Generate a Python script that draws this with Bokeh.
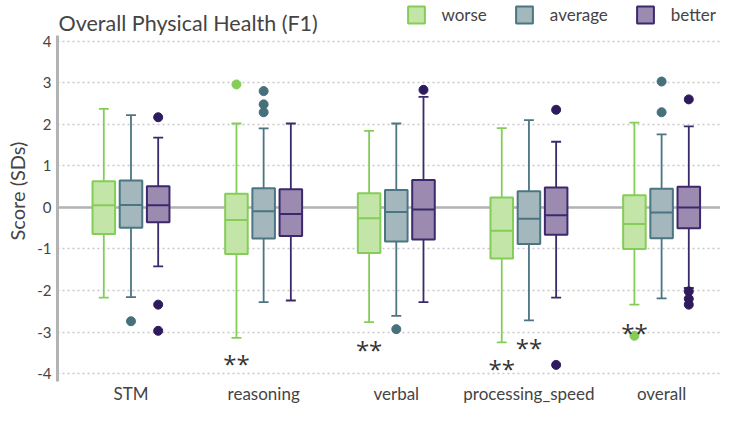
from bokeh.plotting import figure
from bokeh.models import ColumnDataSource, Range1d, FixedTicker, Span, Legend, LegendItem, Label
from bokeh.core.properties import value
from bokeh.embed import file_html
from bokeh.resources import INLINE

categories = ["STM", "reasoning", "verbal", "processing_speed", "overall"]
groups = ["worse", "average", "better"]

worse_lower = [-2.17, -3.14, -2.76, -3.25, -2.34]
worse_q1 = [-0.64, -1.12, -1.10, -1.23, -1.00]
worse_med = [0.05, -0.30, -0.26, -0.56, -0.40]
worse_q3 = [0.63, 0.33, 0.34, 0.24, 0.29]
worse_upper = [2.37, 2.02, 1.84, 1.91, 2.04]

average_lower = [-2.16, -2.28, -2.61, -2.72, -2.19]
average_q1 = [-0.49, -0.75, -0.82, -0.88, -0.74]
average_med = [0.06, -0.09, -0.11, -0.27, -0.12]
average_q3 = [0.65, 0.46, 0.42, 0.39, 0.45]
average_upper = [2.22, 1.90, 2.02, 2.10, 1.76]

better_lower = [-1.42, -2.24, -2.28, -2.17, -1.94]
better_q1 = [-0.36, -0.69, -0.77, -0.66, -0.50]
better_med = [0.05, -0.16, -0.05, -0.19, 0.00]
better_q3 = [0.51, 0.44, 0.66, 0.48, 0.50]
better_upper = [1.68, 2.02, 2.66, 1.58, 1.95]

worse_out_cat = ["reasoning", "overall"]
worse_out_val = [2.96, -3.09]
average_out_cat = ["STM", "reasoning", "reasoning", "reasoning", "verbal", "overall", "overall"]
average_out_val = [-2.74, 2.80, 2.48, 2.29, -2.93, 3.03, 2.29]
better_out_cat = ["STM", "STM", "STM", "verbal", "processing_speed", "processing_speed",
                  "overall", "overall", "overall", "overall"]
better_out_val = [2.17, -2.34, -2.97, 2.83, 2.35, -3.79, 2.60, -2.02, -2.20, -2.34]

sig_cat = ["reasoning", "verbal", "processing_speed", "processing_speed", "overall"]
sig_group = ["worse", "worse", "worse", "average", "worse"]
sig_y = [-3.76, -3.42, -3.87, -3.37, -3.00]

y_ticks = [-4, -3, -2, -1, 0, 1, 2, 3, 4]
y_tick_labels = ["-4", "-3", "-2", "-1", "0", "1", "2", "3", "4"]
title_text = "Overall Physical Health (F1)"

FONT = "Lato"
TEXT = "#444444"
line_colors = {"worse": "#84cd58", "average": "#4b7582", "better": "#3a2a6b"}
fill_colors = {"worse": "#c3e5a7", "average": "#a3b7bd", "better": "#9c8ab1"}
point_colors = {"worse": "#84cd58", "average": "#45707c", "better": "#2e1b5e"}
offsets = {"worse": -0.205, "average": 0.0, "better": 0.205}
BOX_W = 0.17
CAP_W = 0.075

stats = {
    "worse": (worse_lower, worse_q1, worse_med, worse_q3, worse_upper, worse_out_cat, worse_out_val),
    "average": (average_lower, average_q1, average_med, average_q3, average_upper, average_out_cat, average_out_val),
    "better": (better_lower, better_q1, better_med, better_q3, better_upper, better_out_cat, better_out_val),
}
cat_pos = {c: i + 0.5 for i, c in enumerate(categories)}

W, H = 720, 406
BOTTOM, LEFT = 24, 57
Y_LO, Y_AXIS_TOP, Y_TOP = -4.19, 4.14, 4.98
X_LO, X_HI = -0.054, 4.944
p = figure(width=W, height=H, x_range=Range1d(X_LO, X_HI), y_range=Range1d(Y_LO, Y_TOP),
           output_backend="svg", toolbar_location=None, title=None,
           min_border_left=LEFT, min_border_right=0, min_border_top=0, min_border_bottom=BOTTOM)
p.outline_line_color = None
p.background_fill_color = "white"

p.xgrid.visible = False
p.ygrid.ticker = FixedTicker(ticks=y_ticks)
p.ygrid.grid_line_color = "#c8c8c8"
p.ygrid.grid_line_dash = "2 3"
p.ygrid.grid_line_width = 1.5

p.yaxis.ticker = FixedTicker(ticks=y_ticks)
p.yaxis.bounds = (Y_LO, Y_AXIS_TOP)
p.yaxis.major_label_overrides = dict(zip(y_ticks, y_tick_labels))
p.yaxis.axis_line_color = "#b3b3b3"
p.yaxis.axis_line_width = 3
p.yaxis.major_tick_line_color = None
p.yaxis.minor_tick_line_color = None
p.yaxis.major_tick_out = 0
p.yaxis.major_tick_in = 0
p.yaxis.major_label_text_font = FONT
p.yaxis.major_label_text_font_size = "15px"
p.yaxis.major_label_text_color = TEXT
p.yaxis.major_label_standoff = 6
p.yaxis.axis_label = "Score (SDs)"
p.yaxis.axis_label_text_font = FONT
p.yaxis.axis_label_text_font_size = "20px"
p.yaxis.axis_label_text_font_style = "normal"
p.yaxis.axis_label_text_color = TEXT
p.yaxis.axis_label_standoff = 5

p.xaxis.ticker = FixedTicker(ticks=[cat_pos[c] for c in categories])
p.xaxis.major_label_overrides = {cat_pos[c]: c for c in categories}
p.xaxis.axis_line_color = None
p.xaxis.major_tick_line_color = None
p.xaxis.minor_tick_line_color = None
p.xaxis.major_tick_out = 0
p.xaxis.major_tick_in = 0
p.xaxis.axis_label_standoff = 0
p.xaxis.major_label_text_font = FONT
p.xaxis.major_label_text_font_size = "17px"
p.xaxis.major_label_text_color = TEXT
p.xaxis.major_label_standoff = 1

p.add_layout(Span(location=0, dimension="width", line_color="#b3b3b3", line_width=2.5, level="underlay"))

box_renderers = {}
for g in groups:
    lower, q1, med, q3, upper, out_cat, out_val = stats[g]
    xs = [cat_pos[c] + offsets[g] for c in categories]
    src = ColumnDataSource(dict(
        x=xs, lower=lower, q1=q1, med=med, q3=q3, upper=upper,
        cap0=[x - CAP_W / 2 for x in xs], cap1=[x + CAP_W / 2 for x in xs],
        box0=[x - BOX_W / 2 for x in xs], box1=[x + BOX_W / 2 for x in xs],
    ))
    lc = line_colors[g]
    p.segment(x0="x", y0="q3", x1="x", y1="upper", source=src, line_color=lc, line_width=1.8)
    p.segment(x0="x", y0="lower", x1="x", y1="q1", source=src, line_color=lc, line_width=1.8)
    p.segment(x0="cap0", y0="upper", x1="cap1", y1="upper", source=src, line_color=lc, line_width=1.8)
    p.segment(x0="cap0", y0="lower", x1="cap1", y1="lower", source=src, line_color=lc, line_width=1.8)
    r = p.vbar(x="x", width=BOX_W, bottom="q1", top="q3", source=src,
               fill_color=fill_colors[g], line_color=lc, line_width=2)
    box_renderers[g] = r
    p.segment(x0="box0", y0="med", x1="box1", y1="med", source=src, line_color=lc, line_width=2)
    p.scatter(x=[cat_pos[c] + offsets[g] for c in out_cat], y=out_val, size=9, marker="circle",
              fill_color=point_colors[g], line_color=point_colors[g])

p.text(x=[cat_pos[c] + offsets[g] for c, g in zip(sig_cat, sig_group)], y=sig_y,
       text=["**"] * len(sig_y), text_font=value("Open Sans"), text_font_size="24px",
       text_align="center", text_baseline="middle", text_color="#333333")

p.add_layout(Label(x=X_LO, y=4.45, x_offset=1, text=title_text, text_font=FONT,
                   text_font_size="21.5px", text_color=TEXT, text_baseline="alphabetic"))

legend = Legend(items=[LegendItem(label=g, renderers=[box_renderers[g]]) for g in groups],
                orientation="horizontal", location="top_right",
                glyph_width=21, glyph_height=21, label_standoff=15, spacing=27,
                padding=0, margin=4, border_line_color=None, background_fill_alpha=0,
                label_text_font=FONT, label_text_font_size="17px", label_text_color=TEXT)
p.add_layout(legend, "center")

open("out.html", "w").write(file_html(p, INLINE))
